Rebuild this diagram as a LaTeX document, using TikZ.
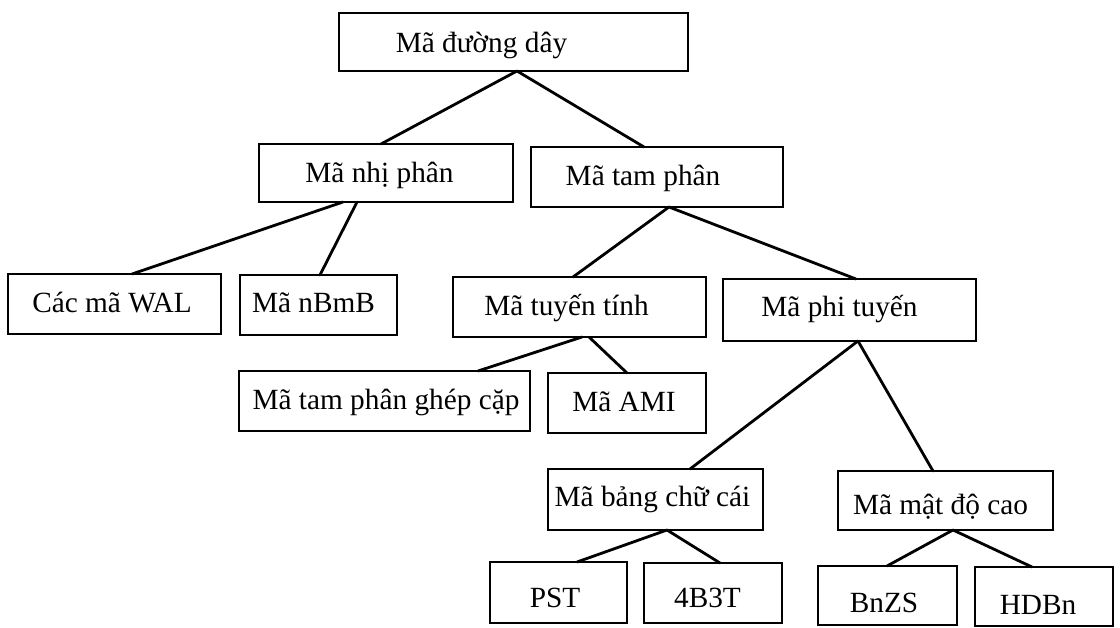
\documentclass[tikz,border=0pt]{standalone}
\usepackage{fontspec}
\setmainfont{Liberation Serif}
\begin{document}
\begin{tikzpicture}[x=1pt,y=-1pt,
  box/.style={draw=black, line width=2.8pt, rectangle, inner sep=0pt, outer sep=0pt},
  txt/.style={font=\fontsize{29.3}{32}\selectfont, inner sep=0pt, text height=19.4pt, text depth=0pt},
  link/.style={draw=black, line width=2.8pt, line cap=round}]
\useasboundingbox (0,0) rectangle (1120,627);

% level 0
\node[box, minimum width=349pt, minimum height=58pt,
  label={[txt, xshift=-32pt, yshift=-1pt]center:Mã đường dây}] (root) at (513.5,42) {};
% level 1
\node[box, minimum width=254pt, minimum height=58pt,
  label={[txt, xshift=-6.5pt]center:Mã nhị phân}] (nhi) at (386,173) {};
\node[box, minimum width=252pt, minimum height=60pt,
  label={[txt, xshift=-14pt, yshift=1pt]center:Mã tam phân}] (tam) at (657,177) {};
% level 2
\node[box, minimum width=213pt, minimum height=60pt,
  label={[txt, xshift=-2.5pt, yshift=1pt]center:Các mã WAL}] (wal) at (114.5,304) {};
\node[box, minimum width=157pt, minimum height=60pt,
  label={[txt, xshift=-5pt, yshift=2pt]center:Mã nBmB}] (nbmb) at (318.5,305) {};
\node[box, minimum width=253pt, minimum height=60pt,
  label={[txt, xshift=-13pt, yshift=1pt]center:Mã tuyến tính}] (tuyen) at (579.5,307) {};
\node[box, minimum width=253pt, minimum height=62pt,
  label={[txt, xshift=-10pt, yshift=3pt]center:Mã phi tuyến}] (phi) at (849.5,310) {};
% level 3
\node[box, minimum width=291pt, minimum height=60pt,
  label={[txt, xshift=1.5pt, yshift=1pt]center:Mã tam phân ghép cặp}] (ghep) at (384.5,401) {};
\node[box, minimum width=158pt, minimum height=60pt,
  label={[txt, xshift=-3pt, yshift=1pt]center:Mã AMI}] (ami) at (627,403) {};
\node[box, minimum width=215pt, minimum height=61pt,
  label={[txt, xshift=-3pt, yshift=2.5pt]center:Mã bảng chữ cái}] (bang) at (655.5,499.5) {};
\node[box, minimum width=215pt, minimum height=59pt,
  label={[txt, xshift=-5pt, yshift=-4.5pt]center:Mã mật độ cao}] (matdo) at (945.5,500.5) {};
% level 4
\node[box, minimum width=137pt, minimum height=61pt,
  label={[txt, xshift=-3.5pt, yshift=-5.5pt]center:PST}] (pst) at (558.5,592.5) {};
\node[box, minimum width=138pt, minimum height=60pt,
  label={[txt, xshift=-5.5pt, yshift=-5pt]center:4B3T}] (bbt) at (713,593) {};
\node[box, minimum width=139pt, minimum height=59pt,
  label={[txt, xshift=-3.5pt, yshift=-7pt]center:BnZS}] (bnzs) at (887.5,595.5) {};
\node[box, minimum width=138pt, minimum height=59pt,
  label={[txt, xshift=-6pt, yshift=-8.5pt]center:HDBn}] (hdbn) at (1044,596.5) {};

% connectors
\draw[link] ([xshift=3.5pt]root.south) -- ([xshift=-5pt]nhi.north);
\draw[link] ([xshift=3.5pt]root.south) -- ([xshift=-13pt]tam.north);
\draw[link] ([xshift=-43pt]nhi.south) -- ([xshift=17.5pt]wal.north);
\draw[link] ([xshift=-29pt]nhi.south) -- ([xshift=1.5pt]nbmb.north);
\draw[link] ([xshift=12pt]tam.south) -- ([xshift=-6.5pt]tuyen.north);
\draw[link] ([xshift=12pt]tam.south) -- ([xshift=6.5pt]phi.north);
\draw[link] ([xshift=2.5pt]tuyen.south) -- ([xshift=93.5pt]ghep.north);
\draw[link] ([xshift=9.5pt]tuyen.south) -- (ami.north);
\draw[link] ([xshift=8.5pt]phi.south) -- ([xshift=34.5pt]bang.north);
\draw[link] ([xshift=8.5pt]phi.south) -- ([xshift=-12.5pt]matdo.north);
\draw[link] ([xshift=11.5pt]bang.south) -- ([xshift=18.5pt]pst.north);
\draw[link] ([xshift=11.5pt]bang.south) -- ([xshift=7pt]bbt.north);
\draw[link] ([xshift=7.5pt]matdo.south) -- ([xshift=-0.5pt]bnzs.north);
\draw[link] ([xshift=7.5pt]matdo.south) -- ([xshift=-12pt]hdbn.north);
\end{tikzpicture}
\end{document}
